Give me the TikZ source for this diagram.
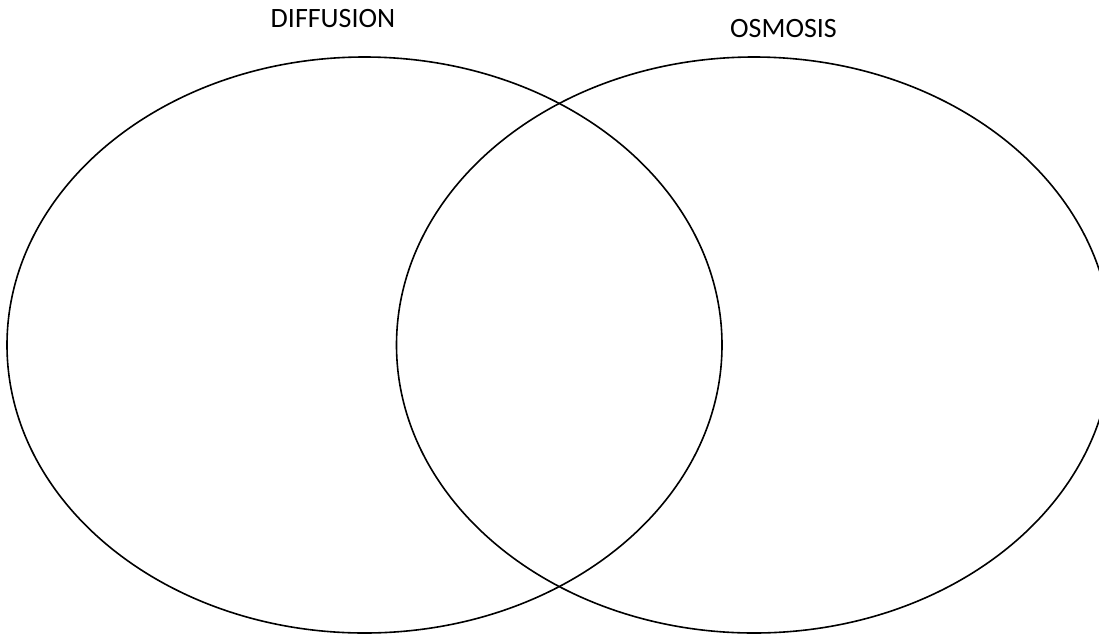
\documentclass[tikz,border=0pt]{standalone}
\usepackage{fontspec}
\setmainfont{Carlito}
\usetikzlibrary{shapes.geometric}
\begin{document}
\begin{tikzpicture}[x=1pt,y=-1pt,
  venn/.style={draw=black,line width=1.6pt,ellipse,minimum width=715pt,minimum height=576pt,inner sep=0pt},
  lbl/.style={anchor=base,inner sep=0pt,font=\fontsize{28}{32}\selectfont}]
\useasboundingbox (0,0) rectangle (1099,635);
\clip (0,0) rectangle (1099,635);
\fill[white] (0,0) rectangle (1099,635);
\node[venn] (diff) at (364.5,345) {};
\node[venn] (osmo) at (754,345) {};
\node[lbl] (tdiff) at (333,27) {DIFFUSION};
\node[lbl] (tosmo) at (783.5,37) {OSMOSIS};
\end{tikzpicture}
\end{document}
